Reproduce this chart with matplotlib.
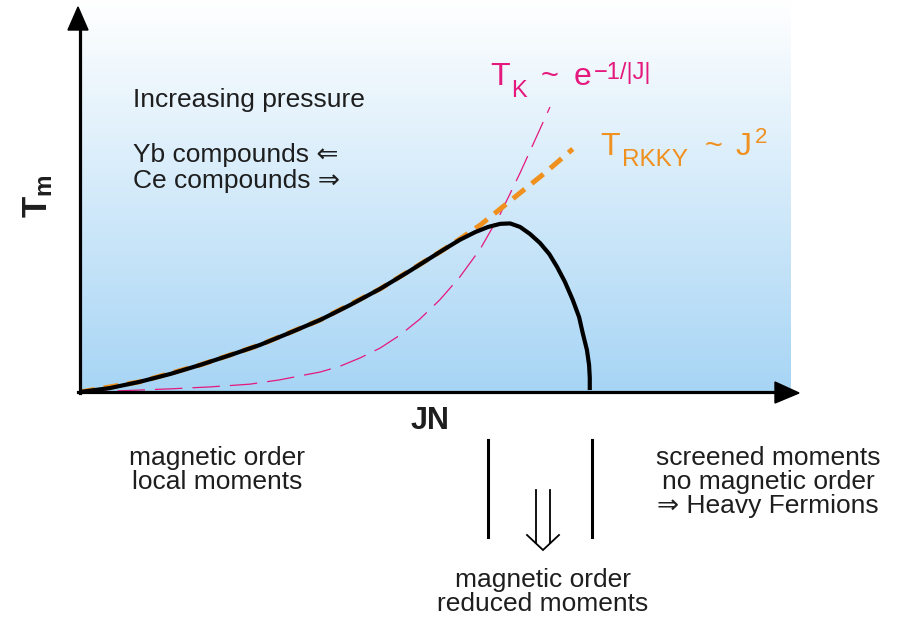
import numpy as np
import matplotlib
matplotlib.use("Agg")
import matplotlib.pyplot as plt
from matplotlib.patches import Polygon

plt.rcParams['font.family'] = ['Liberation Sans', 'DejaVu Sans']
plt.rcParams['mathtext.fontset'] = 'custom'
plt.rcParams['mathtext.rm'] = 'Liberation Sans'
plt.rcParams['mathtext.it'] = 'Liberation Sans'
plt.rcParams['mathtext.bf'] = 'Liberation Sans:bold'

# ---- data (JN and temperature in arbitrary units) ----
tm_jn = [0.000, 0.042, 0.084, 0.127, 0.169, 0.211, 0.253, 0.295, 0.338, 0.380,
         0.422, 0.464, 0.506, 0.534, 0.556, 0.574, 0.591, 0.605, 0.619, 0.633,
         0.647, 0.660, 0.671, 0.682, 0.693, 0.702, 0.707, 0.713, 0.716, 0.717, 0.717]
tm_t = [0.000, 0.010, 0.026, 0.046, 0.069, 0.094, 0.120, 0.151, 0.184, 0.222,
        0.263, 0.309, 0.357, 0.388, 0.408, 0.421, 0.429, 0.430, 0.421, 0.403,
        0.380, 0.352, 0.319, 0.281, 0.235, 0.191, 0.151, 0.107, 0.069, 0.036, 0.005]

rkky_jn = [0.000, 0.084, 0.169, 0.253, 0.338, 0.422, 0.506, 0.534, 0.563, 0.591, 0.619, 0.654, 0.693]
rkky_t = [0.000, 0.026, 0.069, 0.120, 0.184, 0.263, 0.357, 0.390, 0.426, 0.467, 0.508, 0.559, 0.620]

tk_jn = [0.000, 0.070, 0.127, 0.183, 0.239, 0.281, 0.309, 0.338, 0.366, 0.394,
         0.422, 0.450, 0.478, 0.506, 0.534, 0.563, 0.591, 0.619, 0.640, 0.661]
tk_t = [0.000, 0.004, 0.008, 0.013, 0.020, 0.031, 0.041, 0.051, 0.066, 0.087,
        0.112, 0.145, 0.186, 0.235, 0.293, 0.365, 0.454, 0.559, 0.643, 0.727]

MAGENTA = '#E5187D'
ORANGE = '#F0901E'
TXT = '#1e1e1e'
FAM = ['Liberation Sans', 'DejaVu Sans']

W, H = 899, 617
fig = plt.figure(figsize=(W / 100, H / 100), dpi=100)

# data axes: origin at pixel (80, 392), right edge 791, top 0
x0, x1, ytop, y0 = 80, 791, 0, 392
ax = fig.add_axes([x0 / W, (H - y0) / H, (x1 - x0) / W, (y0 - ytop) / H])
ax.set_xlim(0, 1)
ax.set_ylim(0, 1)
ax.axis('off')
ax.set_zorder(1)

# overlay in pixel coordinates (on top)
ov = fig.add_axes([0, 0, 1, 1])
ov.set_xlim(0, W)
ov.set_ylim(H, 0)
ov.axis('off')
ov.set_zorder(3)
ov.patch.set_alpha(0)

# gradient background
top = np.array([1.0, 1.0, 1.0])
bot = np.array([0.655, 0.835, 0.960])
g = np.linspace(0, 1, 256)[:, None]
img = top[None, None, :] * (1 - g[..., None]) + bot[None, None, :] * g[..., None]
img = np.repeat(img, 2, axis=1)
ax.imshow(img, extent=(0, 1, 0, 1), aspect='auto', origin='upper', zorder=0)

# curves
ax.plot(tk_jn, tk_t, color=MAGENTA, lw=0.9, dashes=(22, 8), zorder=2, clip_on=False)
ax.plot(rkky_jn, rkky_t, color=ORANGE, lw=3.6, dashes=(3.0, 1.8), zorder=3,
        solid_capstyle='butt', dash_capstyle='butt', clip_on=False)
ax.plot(tm_jn, tm_t, color='black', lw=3.0, zorder=4, solid_capstyle='butt',
        solid_joinstyle='round', clip_on=False)

# axes arrows (pixel overlay)
ov.plot([80, 80], [393, 28], color='black', lw=2.3, zorder=5)
ov.add_patch(Polygon([[68, 30], [88, 30], [78, 7]], closed=True, color='black', zorder=5))
ov.plot([78, 778], [392, 392], color='black', lw=2.3, zorder=5)
ov.add_patch(Polygon([[775, 382], [775, 403], [799, 393]], closed=True, color='black', zorder=5))

# axis labels
ov.text(38, 196, r'$\mathbf{T_m}$', rotation=90, fontsize=25, ha='center', va='center',
        color=TXT)
ov.text(430, 421, 'JN', fontsize=22, fontweight='bold', ha='center', va='center', color=TXT)

# inner texts
ov.text(133, 107, 'Increasing pressure', fontsize=19, color=TXT, va='baseline')
ov.text(133, 162, 'Yb compounds \u21D0', fontsize=19, color=TXT, va='baseline', family=FAM)
ov.text(133, 188, 'Ce compounds \u21D2', fontsize=19, color=TXT, va='baseline', family=FAM)

# T_K ~ e^{-1/|J|}
ov.text(490, 85, 'T', fontsize=23, color=MAGENTA, va='baseline')
ov.text(511, 97, 'K', fontsize=17, color=MAGENTA, va='baseline')
ov.text(541, 85, '~', fontsize=22, color=MAGENTA, va='baseline')
ov.text(574, 85, 'e', fontsize=23, color=MAGENTA, va='baseline')
ov.text(594, 79, '\u22121/|J|', fontsize=17, color=MAGENTA, va='baseline', family=FAM)

# T_RKKY ~ J^2
ov.text(600, 155, 'T', fontsize=23, color=ORANGE, va='baseline')
ov.text(622, 166, 'RKKY', fontsize=17.5, color=ORANGE, va='baseline')
ov.text(705, 155, '~', fontsize=22, color=ORANGE, va='baseline')
ov.text(736, 155, 'J', fontsize=23, color=ORANGE, va='baseline')
ov.text(755, 143, '2', fontsize=16, color=ORANGE, va='baseline')

# bottom annotations
ov.text(217, 470, 'magnetic order\nlocal moments', fontsize=19, color=TXT,
        ha='center', va='center', linespacing=1.0)
ov.text(768, 482, 'screened moments\nno magnetic order\n\u21D2 Heavy Fermions', fontsize=19,
        color=TXT, ha='center', va='center', linespacing=1.0, family=FAM)
ov.text(543, 592, 'magnetic order\nreduced moments', fontsize=19, color=TXT,
        ha='center', va='center', linespacing=1.0)

# separators and double arrow
ov.plot([488, 488], [440, 537], color='black', lw=2.2)
ov.plot([592, 592], [440, 537], color='black', lw=2.2)
ov.plot([536, 536], [490, 543], color='black', lw=1.3)
ov.plot([550, 550], [490, 543], color='black', lw=1.3)
ov.plot([527, 543, 559], [535, 550, 535], color='black', lw=1.3, solid_joinstyle='miter')

fig.savefig('out.png', dpi=100)
